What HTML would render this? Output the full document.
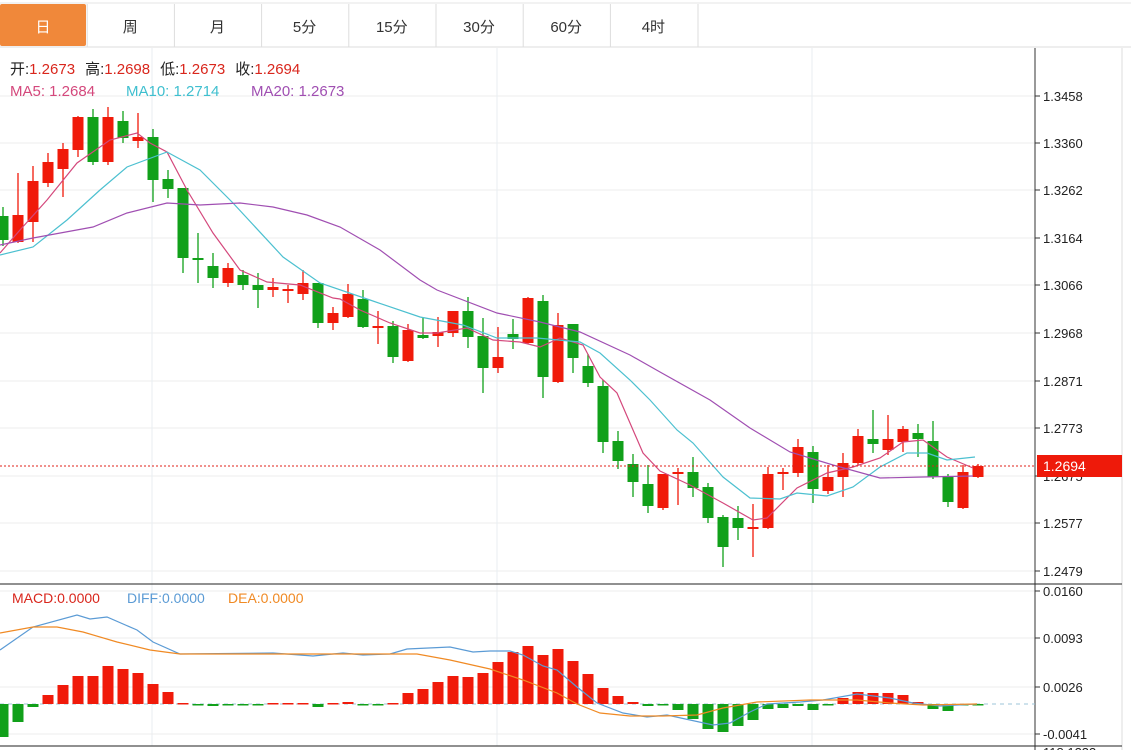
<!DOCTYPE html>
<html><head><meta charset="utf-8"><style>
body{margin:0;background:#fff;width:1131px;height:750px;overflow:hidden;font-family:"Liberation Sans","Noto Sans CJK SC",sans-serif}
svg{position:absolute;left:0;top:0}
</style></head><body>
<svg id="s" width="1131" height="750" xmlns="http://www.w3.org/2000/svg" font-family="Liberation Sans, Noto Sans CJK SC, sans-serif"></svg>
<script>
const s=document.getElementById('s');let h='';
h+='<rect x="0" y="0" width="1131" height="47" fill="#fff"/><line x1="0" y1="47" x2="1131" y2="47" stroke="#ddd"/><line x1="0" y1="3" x2="1131" y2="3" stroke="#e6e6e6"/>';
h+='<rect x="0" y="4" width="86" height="42" fill="#f0883a" rx="2"/>';
const tabs=['日','周','月','5分','15分','30分','60分','4时'];
tabs.forEach((t,i)=>{const cx=43+i*87.2;h+=`<text x="${cx}" y="32" text-anchor="middle" font-size="15" fill="${i==0?'#fff':'#333'}">${t}</text>`;if(i>0)h+=`<line x1="${i*87.2}" y1="4" x2="${i*87.2}" y2="47" stroke="#ddd"/>`});
h+='<line x1="698" y1="4" x2="698" y2="47" stroke="#ddd"/>';
const py=[96,143,190,238,285,333,381,428,476,523,571],pl=['1.3458','1.3360','1.3262','1.3164','1.3066','1.2968','1.2871','1.2773','1.2675','1.2577','1.2479'];
py.forEach((y,i)=>{h+=`<line x1="0" y1="${y}" x2="1035" y2="${y}" stroke="#ececec"/><line x1="1035" y1="${y}" x2="1040" y2="${y}" stroke="#333"/><text x="1043" y="${y+5}" font-size="13" fill="#222">${pl[i]}</text>`});
[152,497,812].forEach(x=>{h+=`<line x1="${x}" y1="48" x2="${x}" y2="746" stroke="#e8eef2"/>`});
const my=[591,638,687,734],ml=['0.0160','0.0093','0.0026','-0.0041'];
my.forEach((y,i)=>{h+=`<line x1="0" y1="${y}" x2="1035" y2="${y}" stroke="#ececec"/><line x1="1035" y1="${y}" x2="1040" y2="${y}" stroke="#333"/><text x="1043" y="${y+5}" font-size="13" fill="#222">${ml[i]}</text>`});
h+='<line x1="1035" y1="48" x2="1035" y2="750" stroke="#333"/><line x1="1122" y1="48" x2="1122" y2="750" stroke="#ddd"/><line x1="0" y1="584" x2="1122" y2="584" stroke="#222"/><line x1="0" y1="746" x2="1122" y2="746" stroke="#222"/>';
h+='<text x="1043" y="757" font-size="13" fill="#222">118.1233</text>';
const R='#f01a0a',G='#11a01a';
const C=[[207,216,240,246,G],[173,215,242,243,R],[166,181,222,242,R],[153,162,183,187,R],[143,149,169,197,R],[116,117,150,157,R],[109,117,162,165,G],[107,117,162,165,R],[111,121,138,143,G],[113,137,141,148,R],[129,137,180,202,G],[170,179,189,198,G],[188,188,258,273,G],[233,258,260,283,G],[253,266,278,288,G],[263,268,283,287,R],[270,275,285,290,G],[273,285,290,308,G],[278,287,290,297,R],[285,289,290,303,R],[270,283,294,300,R],[283,283,323,328,G],[307,313,323,330,R],[284,294,317,318,R],[290,299,327,328,G],[311,326,327,344,R],[321,326,357,363,G],[324,330,361,362,R],[318,335,338,339,G],[317,332,336,347,R],[311,311,333,337,R],[297,311,337,348,G],[318,336,368,393,G],[327,357,368,373,R],[319,334,339,349,G],[297,298,343,344,R],[295,301,377,398,G],[313,325,382,383,R],[324,324,358,373,G],[354,366,383,387,G],[380,386,442,453,G],[431,441,461,469,G],[454,464,482,497,G],[465,484,506,513,G],[474,474,508,510,R],[468,472,474,505,R],[457,472,488,497,G],[483,487,518,523,G],[515,517,547,567,G],[506,518,528,540,G],[504,527,528,557,R],[467,474,528,529,R],[468,472,474,490,R],[439,447,473,477,R],[446,452,489,503,G],[465,477,491,494,R],[453,463,477,497,R],[429,436,463,465,R],[410,439,444,453,G],[415,439,450,455,R],[426,429,442,452,R],[424,433,439,457,G],[421,441,477,479,G],[474,477,502,507,G],[465,472,508,509,R],[464,466,477,478,R]];
C.forEach((c,i)=>{const x=3+i*15;h+=`<line x1="${x}" y1="${c[0]}" x2="${x}" y2="${c[3]}" stroke="${c[4]}" stroke-width="1.3"/><rect x="${x-5.5}" y="${c[1]}" width="11" height="${Math.max(2,c[2]-c[1])}" fill="${c[4]}"/>`});
function pl2(p,c){return `<polyline fill="none" stroke="${c}" stroke-width="1.2" points="${p}"/>`}
h+=pl2('0,253 20,230 47,200 77,163 110,140 137,133 150,143 167,152 187,190 213,233 240,270 267,282 300,285 333,298 340,299 360,310 390,323 420,333 437,333 467,328 493,340 520,342 540,347 560,338 583,345 600,377 617,393 643,453 660,471 690,485 723,503 753,520 767,518 797,488 827,473 853,467 880,458 903,442 923,440 947,457 973,468','#d4487c');
h+=pl2('0,255 33,247 67,220 100,190 127,167 167,152 200,170 233,203 283,257 320,283 370,300 420,317 463,325 497,338 537,338 580,342 600,353 630,380 650,400 677,430 693,443 723,477 750,498 780,499 797,493 827,496 853,487 880,467 907,453 927,453 947,460 975,457','#4cc0d0');
h+=pl2('0,245 33,238 93,227 127,213 167,203 200,205 240,203 273,207 307,215 340,227 380,250 420,280 437,290 497,313 540,322 580,332 630,355 660,372 710,400 750,428 790,452 833,465 880,478 923,477 973,476','#a04fb2');
h+='<line x1="0" y1="466" x2="1035" y2="466" stroke="#e0201a" stroke-dasharray="2,2"/><rect x="1037" y="455" width="85" height="22" fill="#ee1a0a"/><text x="1043" y="471" font-size="14" fill="#fff">1.2694</text>';
h+='<line x1="0" y1="704" x2="1035" y2="704" stroke="#9cc4d8" stroke-dasharray="4,4"/>';
const M=[737,722,707,695,685,676,676,666,669,673,684,692,703,705,706,704,705,704,703,703,703,707,703,702,705,704,703,693,689,682,676,677,673,662,652,646,655,649,661,674,688,696,702,706,704,710,719,729,732,726,720,709,708,706,710,704,698,692,693,693,695,702,709,711,704,704];
M.forEach((v,i)=>{const x=3+i*15;const up=v<704;h+=`<rect x="${x-5.5}" y="${Math.min(v,704)}" width="11" height="${Math.max(1.5,Math.abs(v-704))}" fill="${up?R:G}"/>`});
h+=pl2('0,650 33,627 77,615 90,619 107,617 137,630 153,642 180,654 273,653 313,656 343,653 363,655 390,654 407,649 450,647 473,652 490,651 510,651 523,655 543,666 557,670 577,687 597,703 623,713 647,717 667,715 690,720 713,725 730,723 750,712 767,704 800,702 823,700 857,694 890,698 913,703 940,706 957,705 977,704','#5b9bd5');
h+=pl2('0,633 33,627 57,627 83,632 117,642 150,650 180,654 417,654 450,660 490,669 523,680 557,693 577,704 600,713 630,716 663,716 697,715 723,708 757,702 810,700 857,700 890,703 923,705 977,704','#f08a24');
h+='<text y="74" font-size="15"><tspan x="10" fill="#222">开:</tspan><tspan fill="#d9261c">1.2673</tspan><tspan dx="10" fill="#222">高:</tspan><tspan fill="#d9261c">1.2698</tspan><tspan dx="10" fill="#222">低:</tspan><tspan fill="#d9261c">1.2673</tspan><tspan dx="10" fill="#222">收:</tspan><tspan fill="#d9261c">1.2694</tspan></text>';
h+='<text y="96" font-size="15"><tspan x="10" fill="#d4487c">MA5:  1.2684</tspan><tspan x="126" fill="#3fbfcf">MA10:  1.2714</tspan><tspan x="251" fill="#a04fb2">MA20:  1.2673</tspan></text>';
h+='<text y="603" font-size="14"><tspan x="12" fill="#d9261c">MACD:0.0000</tspan><tspan x="127" fill="#5b9bd5">DIFF:0.0000</tspan><tspan x="228" fill="#f08a24">DEA:0.0000</tspan></text>';
s.innerHTML=h;
</script>
</body></html>
